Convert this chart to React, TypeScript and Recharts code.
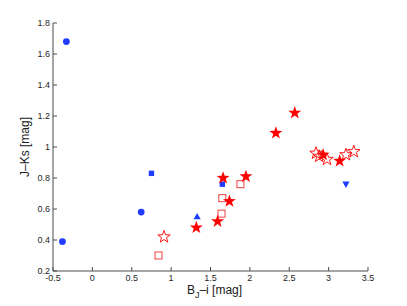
import { ScatterChart, Scatter, XAxis, YAxis } from 'recharts';

// colour index data
const blueCircleX = [-0.33, -0.38, 0.62];
const blueCircleY = [1.68, 0.39, 0.58];
const blueSquareX = [0.75, 1.65];
const blueSquareY = [0.83, 0.76];
const blueTriUpX = [1.33];
const blueTriUpY = [0.55];
const blueTriDownX = [3.22];
const blueTriDownY = [0.76];
const redStarX = [1.32, 1.59, 1.74, 1.66, 1.95, 2.33, 2.57, 2.93, 3.14];
const redStarY = [0.48, 0.52, 0.65, 0.8, 0.81, 1.09, 1.22, 0.95, 0.91];
const redOpenStarX = [0.91, 2.84, 2.88, 2.98, 3.22, 3.32];
const redOpenStarY = [0.42, 0.96, 0.94, 0.92, 0.95, 0.97];
const redOpenSquareX = [0.84, 1.64, 1.65, 1.88];
const redOpenSquareY = [0.3, 0.57, 0.67, 0.76];

const xTicks = [-0.5, 0, 0.5, 1, 1.5, 2, 2.5, 3, 3.5];
const yTicks = [0.2, 0.4, 0.6, 0.8, 1, 1.2, 1.4, 1.6, 1.8];

const pts = (xs: number[], ys: number[]) => xs.map((x, i) => ({ x, y: ys[i] }));

const BLUE = '#1f3cff';
const RED = '#ff0000';
const AXIS = '#4a4a4a';
const FONT = '"Liberation Sans", Arial, sans-serif';

function starPath(cx: number, cy: number, r: number) {
  const inner = r * 0.4;
  let d = '';
  for (let i = 0; i < 10; i++) {
    const rad = i % 2 === 0 ? r : inner;
    const a = -Math.PI / 2 + (i * Math.PI) / 5;
    d += (i === 0 ? 'M' : 'L') + (cx + rad * Math.cos(a)).toFixed(2) + ',' + (cy + rad * Math.sin(a)).toFixed(2);
  }
  return d + 'Z';
}

const FilledStar = (p: any) => <path d={starPath(p.cx, p.cy, 6.8)} fill={RED} />;
const OpenStar = (p: any) => <path d={starPath(p.cx, p.cy, 6.5)} fill="none" stroke={RED} strokeWidth={0.9} />;
const Circle = (p: any) => <circle cx={p.cx} cy={p.cy} r={3.4} fill={BLUE} />;
const Square = (p: any) => <rect x={p.cx - 2.7} y={p.cy - 2.7} width={5.4} height={5.4} fill={BLUE} />;
const OpenSquare = (p: any) => (
  <rect x={p.cx - 3.5} y={p.cy - 3.5} width={7} height={7} fill="none" stroke="#f04040" strokeWidth={1} />
);
const TriUp = (p: any) => (
  <path d={`M${p.cx},${p.cy - 3.8}L${p.cx + 3.6},${p.cy + 2.6}L${p.cx - 3.6},${p.cy + 2.6}Z`} fill={BLUE} />
);
const TriDown = (p: any) => (
  <path d={`M${p.cx},${p.cy + 3.8}L${p.cx + 3.6},${p.cy - 2.6}L${p.cx - 3.6},${p.cy - 2.6}Z`} fill={BLUE} />
);

const tickStyle = { fontSize: 9, fill: '#262626', fontFamily: FONT };
const noLabel = () => <g />;

export default function App() {
  return (
    <div style={{ position: 'absolute', left: 0, top: 0, background: '#fff' }}>
      <ScatterChart width={407} height={306} margin={{ top: 23, right: 39, left: 8, bottom: 5 }}>
        <XAxis
          type="number"
          dataKey="x"
          xAxisId="b"
          domain={[-0.5, 3.5]}
          ticks={xTicks}
          allowDataOverflow
          height={30}
          tickSize={-4}
          tickMargin={8}
          stroke={AXIS}
          tick={tickStyle}
          label={{
            content: (props: any) => {
              const vb = props.viewBox;
              return (
                <text x={vb.x + vb.width / 2 + 4} y={vb.y + 23} textAnchor="middle" fontFamily={FONT} fontSize={12} fill="#1a1a1a">
                  B<tspan fontSize={9} dy={4}>J</tspan>
                  <tspan dy={-4}>–i [mag]</tspan>
                </text>
              );
            },
          }}
        />
        <XAxis
          type="number"
          dataKey="x"
          xAxisId="t"
          orientation="top"
          domain={[-0.5, 3.5]}
          ticks={xTicks}
          allowDataOverflow
          height={0}
          tickSize={-4}
          tick={noLabel}
          stroke={AXIS}
        />
        <YAxis
          type="number"
          dataKey="y"
          yAxisId="l"
          domain={[0.2, 1.8]}
          ticks={yTicks}
          allowDataOverflow
          width={45}
          tickSize={-4}
          tickMargin={7}
          stroke={AXIS}
          tick={tickStyle}
          label={{
            content: () => (
              <text x={29} y={147} transform="rotate(-90 29 147)" textAnchor="middle" fontFamily={FONT} fontSize={12} fill="#1a1a1a">
                J–Ks [mag]
              </text>
            ),
          }}
        />
        <YAxis
          type="number"
          dataKey="y"
          yAxisId="r"
          orientation="right"
          domain={[0.2, 1.8]}
          ticks={yTicks}
          allowDataOverflow
          width={0}
          tickSize={-4}
          tick={noLabel}
          stroke={AXIS}
        />
        <Scatter xAxisId="b" yAxisId="l" data={pts(redOpenSquareX, redOpenSquareY)} shape={OpenSquare} isAnimationActive={false} />
        <Scatter xAxisId="b" yAxisId="l" data={pts(blueCircleX, blueCircleY)} shape={Circle} isAnimationActive={false} />
        <Scatter xAxisId="b" yAxisId="l" data={pts(blueSquareX, blueSquareY)} shape={Square} isAnimationActive={false} />
        <Scatter xAxisId="b" yAxisId="l" data={pts(blueTriUpX, blueTriUpY)} shape={TriUp} isAnimationActive={false} />
        <Scatter xAxisId="b" yAxisId="l" data={pts(blueTriDownX, blueTriDownY)} shape={TriDown} isAnimationActive={false} />
        <Scatter xAxisId="b" yAxisId="l" data={pts(redOpenStarX, redOpenStarY)} shape={OpenStar} isAnimationActive={false} />
        <Scatter xAxisId="b" yAxisId="l" data={pts(redStarX, redStarY)} shape={FilledStar} isAnimationActive={false} />
      </ScatterChart>
    </div>
  );
}
